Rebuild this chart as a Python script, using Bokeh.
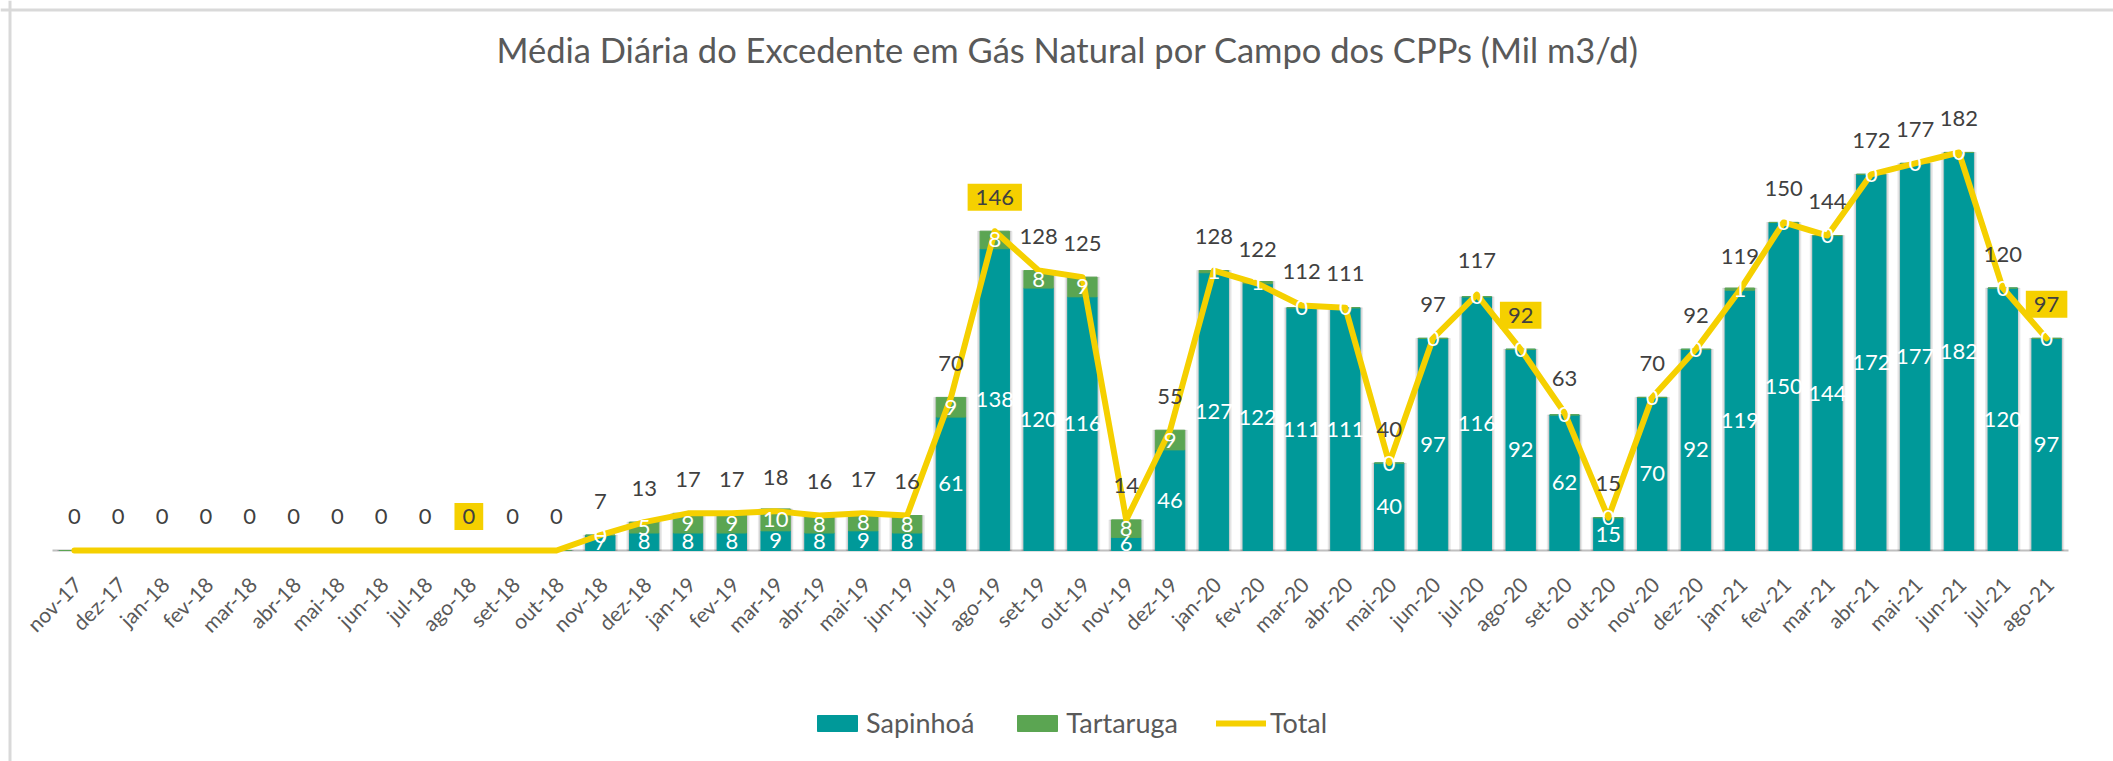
import math
from bokeh.plotting import figure
from bokeh.models import ColumnDataSource, Range1d, Legend, LegendItem, Span, Label
from bokeh.core.properties import value
from bokeh.embed import file_html
from bokeh.resources import INLINE

months = ["nov-17", "dez-17",
          "jan-18", "fev-18", "mar-18", "abr-18", "mai-18", "jun-18",
          "jul-18", "ago-18", "set-18", "out-18", "nov-18", "dez-18",
          "jan-19", "fev-19", "mar-19", "abr-19", "mai-19", "jun-19",
          "jul-19", "ago-19", "set-19", "out-19", "nov-19", "dez-19",
          "jan-20", "fev-20", "mar-20", "abr-20", "mai-20", "jun-20",
          "jul-20", "ago-20", "set-20", "out-20", "nov-20", "dez-20",
          "jan-21", "fev-21", "mar-21", "abr-21", "mai-21", "jun-21",
          "jul-21", "ago-21"]

sapinhoa = [None] * 12 + [7, 8, 8, 8, 9, 8, 9, 8,
                          61, 138, 120, 116, 6, 46,
                          127, 122, 111, 111, 40, 97, 116, 92, 62, 15, 70, 92,
                          119, 150, 144, 172, 177, 182, 120, 97]
tartaruga = [None] * 12 + [0, 5, 9, 9, 10, 8, 8, 8,
                           9, 8, 8, 9, 8, 9,
                           1, 1, 0, 0, 0, 0, 0, 0, 0, 0, 0, 0,
                           1, 0, 0, 0, 0, 0, 0, 0]
total = [0] * 12 + [7, 13, 17, 17, 18, 16, 17, 16,
                    70, 146, 128, 125, 14, 55,
                    128, 122, 112, 111, 40, 97, 117, 92, 63, 15, 70, 92,
                    119, 150, 144, 172, 177, 182, 120, 97]
highlight = ["ago-18", "ago-19", "ago-20", "ago-21"]
title = "Média Diária do Excedente em Gás Natural por Campo dos CPPs (Mil m3/d)"

TEAL = "#009999"
GREEN = "#5BA552"
YELLOW = "#F5D000"
FONT = "Lato"

# ---- layout (pixels, canvas = page) ----
W, H = 2113, 761
PLOT_L, PLOT_R = 52, 2068   # category area
BASE = 550                  # zero line (from top)
PX_PER_UNIT = 2.187

n = len(months)
cat_w = (PLOT_R - PLOT_L) / n
x_start = -0.5 - PLOT_L / cat_w
x_end = x_start + W / cat_w
y_end = BASE / PX_PER_UNIT
y_start = -(H - BASE) / PX_PER_UNIT

def px_x(px):
    return x_start + px / cat_w

def px_y(py):
    return y_end - py / PX_PER_UNIT

idx = list(range(n))
s_val = [v or 0 for v in sapinhoa]
t_val = [v or 0 for v in tartaruga]
st_val = [a + b for a, b in zip(s_val, t_val)]

src = ColumnDataSource(dict(x=idx, s=s_val, st=st_val, total=total))

p = figure(x_range=Range1d(x_start, x_end), y_range=Range1d(y_start, y_end),
           frame_width=W, frame_height=H, title=None,
           min_border=0, output_backend="svg", toolbar_location=None)
p.outline_line_color = None
p.xgrid.grid_line_color = None
p.ygrid.grid_line_color = None
p.yaxis.visible = False
p.xaxis.visible = False

# chart border (top / left)
p.add_layout(Span(location=px_y(9.5), dimension="width", line_color="#D9D9D9", line_width=3))
p.add_layout(Span(location=px_x(9.5), dimension="height", line_color="#D9D9D9", line_width=3))

# title
p.add_layout(Label(x=px_x(1067), y=px_y(49), text=title,
                   text_align="center", text_baseline="middle", text_font=FONT,
                   text_font_size="34.5px", text_color="#595959"))

# category axis line and rotated month labels
p.segment(x0=[-0.5], x1=[n - 0.5], y0=[0], y1=[0], line_color="#BFBFBF", line_width=2)
p.text(x=idx, y=[0] * n, text=months, angle=math.pi / 4,
       text_align="right", text_baseline="middle", x_offset=3, y_offset=30,
       text_font=value(FONT), text_font_size="21px", text_color="#595959")

# soft shadow around bars
p.vbar(x="x", top="st", width=0.79, source=src, color="#000000", alpha=0.06)
p.vbar(x="x", top="st", width=0.73, source=src, color="#000000", alpha=0.09)

r_s = p.vbar(x="x", top="s", bottom=0, width=0.67, source=src, color=TEAL)
r_t = p.vbar(x="x", top="st", bottom="s", width=0.67, source=src, color=GREEN)
r_l = p.line(x="x", y="total", source=src, color=YELLOW, line_width=6,
             line_join="round", line_cap="round")

# inside labels
sx, sy, stx = [], [], []
tx, ty, ttx = [], [], []
for i, a, b, sv in zip(idx, sapinhoa, tartaruga, s_val):
    if a is not None:
        sx.append(i); sy.append(a / 2); stx.append(str(a))
    if b is not None:
        tx.append(i); ty.append(sv + b / 2); ttx.append(str(b))
p.text(x=sx, y=sy, text=stx, text_color="white", text_font=value(FONT),
       text_font_size="22px", text_align="center", text_baseline="middle")
p.text(x=tx, y=ty, text=ttx, text_color="white", text_font=value(FONT),
       text_font_size="22px", text_align="center", text_baseline="middle")

# total labels
nx, ny, nt = [], [], []
hx, hy, ht = [], [], []
for i, m, v in zip(idx, months, total):
    if m in highlight:
        hx.append(i); hy.append(v); ht.append(str(v))
    else:
        nx.append(i); ny.append(v); nt.append(str(v))
p.text(x=nx, y=ny, text=nt, text_color="#404040", text_font=value(FONT),
       text_font_size="22px", text_align="center", text_baseline="middle", y_offset=-34)
p.text(x=hx, y=hy, text=ht, text_color="#404040", text_font=value(FONT),
       text_font_size="22px", text_align="center", text_baseline="middle", y_offset=-34,
       background_fill_color=YELLOW, padding=(8, 6))

legend = Legend(items=[LegendItem(label="Sapinhoá", renderers=[r_s]),
                       LegendItem(label="Tartaruga", renderers=[r_t]),
                       LegendItem(label="Total", renderers=[r_l])],
                orientation="horizontal", location=(812, 22),
                glyph_width=50, glyph_height=20, spacing=38, label_standoff=4,
                label_text_font=FONT, label_text_font_size="27px",
                label_text_color="#595959", border_line_color=None,
                background_fill_alpha=0, padding=0, margin=0)
p.add_layout(legend, "center")

open("out.html", "w").write(file_html(p, INLINE))
